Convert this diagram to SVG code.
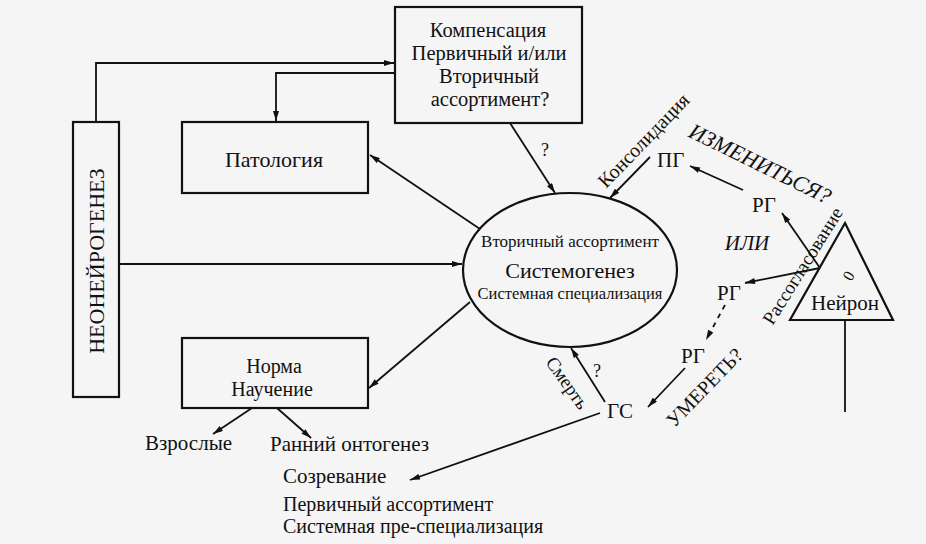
<svg xmlns="http://www.w3.org/2000/svg" width="926" height="544" viewBox="0 0 926 544">
<defs>
<marker id="ah" viewBox="0 0 10 6" refX="10" refY="3" markerWidth="11" markerHeight="6" orient="auto" markerUnits="userSpaceOnUse"><path d="M0,0 L10,3 L0,6 z" fill="#111"/></marker>
<style>
.box{fill:none;stroke:#111;stroke-width:2.2}
.c{fill:none;stroke:#111;stroke-width:1.8}
.a{marker-end:url(#ah)}
text{font-family:"Liberation Serif","Times New Roman",serif;fill:#111}
.m{text-anchor:middle}
.f20{font-size:20px}
.f21{font-size:21px}
.i{font-style:italic}
</style>
</defs>
<rect x="0" y="0" width="926" height="544" fill="#f5f5f5"/>

<g id="connectors">
<path class="c a" d="M96,122 V63 H394"/>
<path class="c a" d="M395,73 H276 V121"/>
<path class="c a" d="M119,264 H462"/>
<path class="c a" d="M480,229 L370,155"/>
<path class="c a" d="M470,302 L369,388"/>
<path class="c a" d="M252,408 L213,434"/>
<path class="c a" d="M277,408 L311,438"/>
<path class="c a" d="M510,123 L555,193"/>
<path class="c a" d="M650,157 L610,198"/>
<path class="c a" d="M743,190 L690,166"/>
<path class="c a" d="M820,268 L782,213"/>
<path class="c a" d="M820,268 L745,283"/>
<path class="c a" d="M725,305 L706,340" stroke-dasharray="5 5"/>
<path class="c a" d="M685,368 L648,407"/>
<path class="c a" d="M605,402 L571,348"/>
<path class="c a" d="M600,413 L410,480"/>
<path class="c" d="M845,320 V412"/>
</g>

<g id="neoneurogenesis">
<rect class="box" x="73" y="122" width="46" height="275"/>
<text class="m" transform="translate(104,261) rotate(-90)" font-size="22">НЕОНЕЙРОГЕНЕЗ</text>
</g>

<g id="compensation">
<rect class="box" x="395" y="7" width="187" height="116"/>
<text class="m" font-size="20.5" x="488" y="37">Компенсация</text>
<text class="m" font-size="20.5" x="489" y="60">Первичный и/или</text>
<text class="m" font-size="20.5" x="489" y="83">Вторичный</text>
<text class="m" font-size="20.5" x="490" y="106">ассортимент?</text>
</g>

<g id="pathology">
<rect class="box" x="182" y="122" width="186" height="71"/>
<text class="m" font-size="22" x="274" y="167">Патология</text>
</g>

<g id="norm">
<rect class="box" x="182" y="338" width="186" height="70"/>
<text class="m f20" x="274" y="373">Норма</text>
<text class="m f20" x="272" y="396">Научение</text>
</g>

<g id="systemogenesis">
<ellipse class="box" cx="570" cy="270" rx="107" ry="77"/>
<text class="m" x="570" y="247" font-size="17">Вторичный ассортимент</text>
<text class="m" x="570" y="278" font-size="22">Системогенез</text>
<text class="m" x="570" y="299" font-size="16.5">Системная специализация</text>
</g>

<g id="neuron">
<path class="box" d="M845,223 L893,320 L790,320 Z"/>
<text class="m" transform="translate(849,276) rotate(-60)" font-size="16" dy="5">0</text>
<text class="m f21" x="845" y="310">Нейрон</text>
</g>

<g id="labels">
<text class="m" x="545" y="156" font-size="18">?</text>
<text class="m" x="597" y="377" font-size="18">?</text>
<text class="m f20" transform="translate(644,141) rotate(-46)" dy="6">Консолидация</text>
<text class="m i" transform="translate(760,164) rotate(26)" dy="7" font-size="22">ИЗМЕНИТЬСЯ?</text>
<text class="m" transform="translate(803,266) rotate(-58)" dy="6" font-size="19">Рассогласование</text>
<text class="m" transform="translate(705,388) rotate(-46)" dy="6" font-size="20">УМЕРЕТЬ?</text>
<text class="m" transform="translate(567,383) rotate(55)" dy="6" font-size="19">Смерть</text>
<text class="m i f21" x="747" y="250">ИЛИ</text>
</g>

<g id="pg"><text class="f21" x="657" y="167">ПГ</text></g>
<g id="rg1"><text class="m f21" x="764" y="212">РГ</text></g>
<g id="rg2"><text class="m f21" x="729" y="300">РГ</text></g>
<g id="rg3"><text class="m f21" x="693" y="363">РГ</text></g>
<g id="gs"><text class="m f21" x="620" y="418">ГС</text></g>

<g id="adults"><text class="f21" x="145" y="450">Взрослые</text></g>
<g id="early"><text class="f21" x="270" y="451">Ранний онтогенез</text></g>
<g id="maturation"><text class="f21" x="283" y="483">Созревание</text></g>
<g id="primary">
<text class="f20" x="283" y="511">Первичный ассортимент</text>
<text class="f20" x="283" y="533">Системная пре-специализация</text>
</g>
</svg>
